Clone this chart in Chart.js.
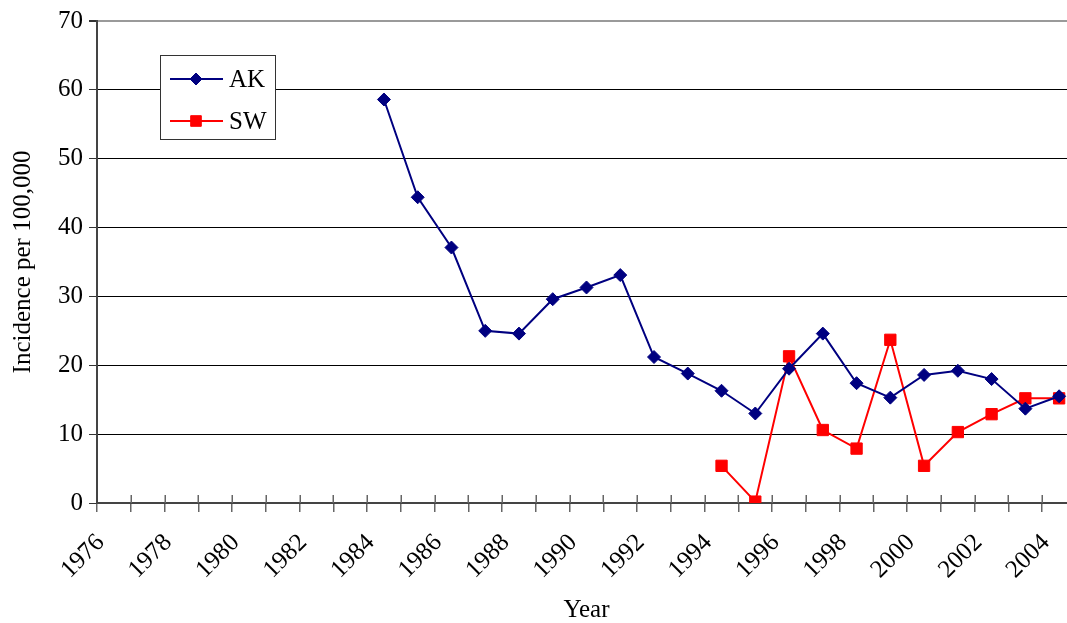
<!DOCTYPE html>
<html>
<head>
<meta charset="utf-8">
<script src="https://cdn.jsdelivr.net/npm/chart.js@4/dist/chart.umd.min.js"></script>
<style>
  html, body { margin: 0; padding: 0; background: #fff; overflow: hidden; }
  #wrap { position: relative; width: 1085px; height: 623px; }
</style>
</head>
<body>
<div id="wrap"><canvas id="c"></canvas></div>
<script>
const years = ['1976','1977','1978','1979','1980','1981','1982','1983','1984','1985','1986','1987','1988','1989','1990','1991','1992','1993','1994','1995','1996','1997','1998','1999','2000','2001','2002','2003','2004'];
const akValues = [null,null,null,null,null,null,null,null,58.6,44.4,37.1,25.0,24.6,29.6,31.3,33.1,21.2,18.8,16.3,13.0,19.5,24.6,17.4,15.3,18.6,19.2,18.0,13.7,15.5];
const swValues = [null,null,null,null,null,null,null,null,null,null,null,null,null,null,null,null,null,null,5.4,0.2,21.3,10.6,7.9,23.7,5.4,10.3,12.9,15.2,15.2];
const yTicks = [0,10,20,30,40,50,60,70];
const seriesNames = ['AK','SW'];

const FONT = 'Liberation Serif';
const FSIZE = 25;

const legendBox = {
  id: 'legendBox',
  afterDatasetsDraw(chart) {
    const ctx = chart.ctx;
    ctx.save();
    ctx.fillStyle = '#ffffff';
    ctx.fillRect(160.5, 55.5, 115, 84);
    ctx.strokeStyle = '#333333';
    ctx.lineWidth = 1;
    ctx.strokeRect(160.5, 55.5, 115, 84);
    chart.data.datasets.forEach((ds, i) => {
      const y = 79 + i * 42;
      ctx.strokeStyle = ds.borderColor;
      ctx.lineWidth = 2;
      ctx.beginPath();
      ctx.moveTo(170, y);
      ctx.lineTo(223, y);
      ctx.stroke();
      ctx.fillStyle = ds.pointBackgroundColor;
      ctx.strokeStyle = ds.pointBorderColor;
      ctx.lineWidth = 1;
      Chart.helpers.drawPoint(ctx, {pointStyle: ds.pointStyle, radius: ds.pointStyle === 'rect' ? 7.5 : 6, borderWidth: 1, rotation: 0}, 196, y);
      ctx.fillStyle = '#000';
      ctx.font = FSIZE + 'px "' + FONT + '"';
      ctx.textAlign = 'left';
      ctx.textBaseline = 'middle';
      ctx.fillText(ds.label, 229, y + 1);
    });
    ctx.restore();
  }
};

const crossTicks = {
  id: 'crossTicks',
  afterDraw(chart) {
    const xs = chart.scales.x;
    const ctx = chart.ctx;
    const n = years.length;
    const step = xs.getPixelForValue(1) - xs.getPixelForValue(0);
    ctx.save();
    ctx.strokeStyle = '#666666';
    ctx.lineWidth = 1.5;
    for (let i = 1; i <= n; i++) {
      const x = Math.round(xs.getPixelForValue(0) - step / 2 + i * step) + 0.25;
      ctx.beginPath();
      ctx.moveTo(x, xs.top - 8);
      ctx.lineTo(x, xs.top);
      ctx.stroke();
    }
    ctx.restore();
  }
};

new Chart(document.getElementById('c'), {
  type: 'line',
  data: {
    labels: years,
    datasets: [
      {
        label: seriesNames[0],
        data: akValues,
        borderColor: '#000080',
        backgroundColor: '#000080',
        pointBackgroundColor: '#000080',
        pointBorderColor: '#000080',
        pointStyle: 'rectRot',
        pointRadius: 6.5,
        pointBorderWidth: 1,
        borderWidth: 2,
        tension: 0,
        fill: false
      },
      {
        label: seriesNames[1],
        data: swValues,
        borderColor: '#ff0000',
        backgroundColor: '#ff0000',
        pointBackgroundColor: '#ff0000',
        pointBorderColor: '#ff0000',
        pointStyle: 'rect',
        pointRadius: 8,
        pointBorderWidth: 1,
        borderWidth: 2,
        tension: 0,
        fill: false
      }
    ]
  },
  options: {
    responsive: true,
    maintainAspectRatio: false,
    animation: false,
    layout: { padding: { top: 21, left: 0, right: 5, bottom: 0 } },
    plugins: {
      legend: { display: false },
      tooltip: { enabled: false },
      title: { display: false }
    },
    scales: {
      x: {
        type: 'category',
        offset: true,
        afterFit(scale) { scale.height = 120; },
        grid: {
          offset: true,
          drawOnChartArea: false,
          drawTicks: true,
          tickLength: 9,
          color: '#666666',
          lineWidth: 1.5
        },
        border: { display: true, color: '#444444', width: 2 },
        ticks: {
          autoSkip: false,
          maxRotation: 45,
          minRotation: 45,
          padding: 3,
          color: '#000',
          font: { family: FONT, size: FSIZE },
          callback: function(v, i) { return i % 2 === 0 ? years[i] + '\u0020\u0020\u0020' : ''; }
        },
        title: {
          display: true,
          text: 'Year',
          color: '#000',
          font: { family: FONT, size: FSIZE },
          padding: { top: 0, bottom: -2 }
        }
      },
      y: {
        min: 0,
        max: 70,
        afterFit(scale) { scale.width = 97; },
        afterBuildTicks(scale) { scale.ticks = yTicks.map(v => ({ value: v })); },
        grid: {
          drawOnChartArea: true,
          drawTicks: true,
          tickLength: 8,
          color: ctx => (ctx.tick && ctx.tick.value === 70) ? '#9a9a9a' : '#000000',
          lineWidth: ctx => (ctx.tick && ctx.tick.value === 70) ? 2 : 1,
          tickColor: '#333333'
        },
        border: { display: true, color: '#444444', width: 2 },
        ticks: {
          padding: 6,
          color: '#000',
          font: { family: FONT, size: FSIZE }
        },
        title: {
          display: true,
          text: 'Incidence per 100,000',
          color: '#000',
          font: { family: FONT, size: FSIZE },
          padding: { top: 8, bottom: 0 }
        }
      }
    }
  },
  plugins: [legendBox, crossTicks]
});
</script>
</body>
</html>
